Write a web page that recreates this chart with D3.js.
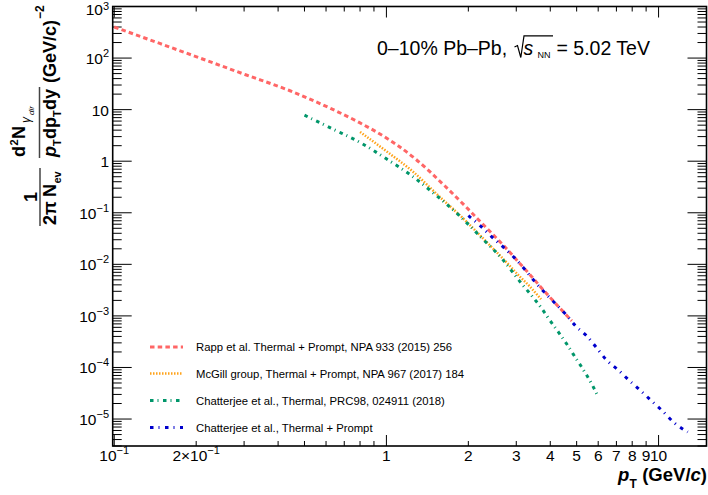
<!DOCTYPE html>
<html><head><meta charset="utf-8">
<script src="https://cdn.jsdelivr.net/npm/d3@7"></script>
<style>
html,body{margin:0;padding:0;background:#fff;}
svg{display:block;font-family:"Liberation Sans",Arial,Helvetica,sans-serif;}
</style></head>
<body>
<svg id="c" width="708" height="495"></svg>
<script>
// ---------- data ----------
const rappPt = [0.1, 0.147, 0.211, 0.304, 0.44, 0.626, 0.794, 1.0, 1.1, 1.28, 1.64, 1.975, 2.17, 2.83, 3.08, 3.37, 3.66, 4.0, 4.38, 4.8];
const rappY  = [400, 192, 96, 47.5, 23.5, 10.45, 5.65, 2.82, 2.02, 1.1, 0.33, 0.125, 0.075, 0.0175, 0.0106, 0.0063, 0.0038, 0.00226, 0.00134, 0.0008];

const mcgillPt = [0.8, 1.0, 1.246, 1.56, 1.96, 2.32, 2.75, 3.07, 3.35, 3.7];
const mcgillY  = [3.7, 1.56, 0.64, 0.21, 0.069, 0.028, 0.0112, 0.006, 0.0038, 0.0021];

const chatThPt = [0.5, 0.633, 0.805, 1.0, 1.246, 1.52, 1.85, 2.22, 2.67, 3.12, 3.41, 3.7, 3.98, 4.28, 4.63, 4.97, 5.33, 5.69, 6.0];
const chatThY  = [7.8, 4.25, 2.27, 1.11, 0.51, 0.22, 0.089, 0.034, 0.0125, 0.0044, 0.0025, 0.00145, 0.00083, 0.00049, 0.00027, 0.00015, 8.5e-5, 4.7e-5, 2.7e-5];

const chatTotPt = [2.0, 2.22, 2.44, 2.69, 2.95, 3.21, 3.49, 3.8, 4.17, 4.56, 4.97, 5.48, 5.94, 6.44, 7.11, 7.8, 8.61, 9.46, 10.4, 11.4, 12.8];
const chatTotY  = [0.088, 0.055, 0.034, 0.0215, 0.0135, 0.0082, 0.0048, 0.0029, 0.00175, 0.00107, 0.00063, 0.000395, 0.000235, 0.000139, 8.9e-5, 5.6e-5, 3.5e-5, 2.2e-5, 1.39e-5, 8.5e-6, 5.6e-6];

const seriesNames = [
  "Rapp et al. Thermal + Prompt, NPA 933 (2015) 256",
  "McGill group, Thermal + Prompt, NPA 967 (2017) 184",
  "Chatterjee et al., Thermal, PRC98, 024911 (2018)",
  "Chatterjee et al., Thermal + Prompt"
];
const seriesColors = ["#ff6666", "#ffa31a", "#00966a", "#0000cc"];
const seriesDash = ["4.5,3.2", "1.5,1.5", "3.5,4,1,4.5", "3.5,5,1,5.5"];
const seriesWidth = [3, 2.5, 3, 3];

const xTickVals = [0.1, 0.2, 1, 2, 3, 4, 5, 6, 7, 8, 9, 10];
const xTickBase = ["10", "2\u00D710", "1", "2", "3", "4", "5", "6", "7", "8", "9", "10"];
const xTickExp  = ["\u22121", "\u22121", "", "", "", "", "", "", "", "", "", ""];

const yTickVals = [1e3, 1e2, 10, 1, 1e-1, 1e-2, 1e-3, 1e-4, 1e-5];
const yTickBase = ["10", "10", "10", "1", "10", "10", "10", "10", "10"];
const yTickExp  = ["3", "2", "", "", "\u22121", "\u22122", "\u22123", "\u22124", "\u22125"];

// ---------- scales ----------
const L = 112.7, R = 706.5, T = 6.5, B = 446;
const x = d3.scaleLog().domain([0.0987, 15]).range([L, R]);
const y = d3.scaleLog().domain([3e-6, 1000]).range([B, T]);

const svg = d3.select("#c");

svg.append("defs").append("clipPath").attr("id", "clip")
  .append("rect").attr("x", L).attr("y", T).attr("width", R - L).attr("height", B - T);

// ---------- ticks ----------
const tk = svg.append("g").attr("stroke", "#000").attr("stroke-width", 1);
for (let e = -6; e <= 3; e++) {
  for (let k = 1; k <= 9; k++) {
    const v = k * Math.pow(10, e);
    if (v < 3e-6 * 0.999 || v > 1000 * 1.001) continue;
    const len = k === 1 ? 19 : 9;
    const yy = y(v);
    tk.append("line").attr("x1", L).attr("x2", L + len).attr("y1", yy).attr("y2", yy);
    tk.append("line").attr("x1", R - len).attr("x2", R).attr("y1", yy).attr("y2", yy);
  }
}
for (let e = -2; e <= 1; e++) {
  for (let k = 1; k <= 9; k++) {
    const v = k * Math.pow(10, e);
    if (v < 0.0987 || v > 15) continue;
    const len = k === 1 ? 11 : 5;
    const xx = x(v);
    tk.append("line").attr("x1", xx).attr("x2", xx).attr("y1", B).attr("y2", B - len);
    tk.append("line").attr("x1", xx).attr("x2", xx).attr("y1", T).attr("y2", T + len);
  }
}

svg.append("rect").attr("x", L).attr("y", T).attr("width", R - L).attr("height", B - T)
  .attr("fill", "none").attr("stroke", "#000").attr("stroke-width", 1.6);

// ---------- tick labels ----------
yTickVals.forEach((v, i) => {
  const top = i === 0;
  const t = svg.append("text").attr("x", 109).attr("y", top ? 14.5 : y(v) + 6)
    .attr("text-anchor", "end").attr("font-size", 15.5).attr("fill", "#000");
  t.append("tspan").text(yTickBase[i]);
  if (yTickExp[i]) t.append("tspan").attr("dy", top ? -5 : -7).attr("font-size", 11).text(yTickExp[i]);
});
xTickVals.forEach((v, i) => {
  const t = svg.append("text").attr("x", x(v)).attr("y", 461)
    .attr("text-anchor", "middle").attr("font-size", 15.5).attr("fill", "#000");
  t.append("tspan").text(xTickBase[i]);
  if (xTickExp[i]) t.append("tspan").attr("dy", -7).attr("font-size", 11).text(xTickExp[i]);
});

// ---------- curves ----------
const line = d3.line().x(d => x(d[0])).y(d => y(d[1])).curve(d3.curveMonotoneX);
const allPt = [rappPt, mcgillPt, chatThPt, chatTotPt];
const allY = [rappY, mcgillY, chatThY, chatTotY];
const curves = svg.append("g").attr("clip-path", "url(#clip)");
allPt.forEach((pts, i) => {
  const data = pts.map((p, j) => [p, allY[i][j]]);
  curves.append("path").attr("d", line(data)).attr("fill", "none")
    .attr("stroke", seriesColors[i]).attr("stroke-width", seriesWidth[i])
    .attr("stroke-dasharray", seriesDash[i]);
});

// ---------- legend ----------
const legY = [347, 373.5, 400.5, 427.5];
seriesNames.forEach((n, i) => {
  svg.append("line").attr("x1", 150).attr("x2", 183).attr("y1", legY[i]).attr("y2", legY[i])
    .attr("stroke", seriesColors[i]).attr("stroke-width", seriesWidth[i])
    .attr("stroke-dasharray", seriesDash[i]);
  svg.append("text").attr("x", 196).attr("y", legY[i] + 4).attr("font-size", 11.3)
    .attr("fill", "#000").text(n);
});

// ---------- title label ----------
svg.append("text").attr("x", 377).attr("y", 55).attr("font-size", 19.5).text("0\u201310% Pb\u2013Pb,");
svg.append("path").attr("d", "M514.5,47 L517.5,45.5 L520.8,57.5 L524,35.8 L553,35.8")
  .attr("fill", "none").attr("stroke", "#000").attr("stroke-width", 1.2);
svg.append("text").attr("x", 523.5).attr("y", 55).attr("font-size", 19.5).attr("font-style", "italic").text("s");
svg.append("text").attr("x", 537.5).attr("y", 57.5).attr("font-size", 9).attr("fill", "#000").text("NN");
svg.append("text").attr("x", 556.5).attr("y", 55).attr("font-size", 19.5).text("= 5.02 TeV");

// ---------- x axis title ----------
svg.append("text").attr("x", 618).attr("y", 481).attr("font-size", 18.5).attr("font-weight", "bold")
  .attr("font-style", "italic").text("p");
svg.append("text").attr("x", 629.5).attr("y", 488).attr("font-size", 12).attr("font-weight", "bold").text("T");
const xt = svg.append("text").attr("x", 707).attr("y", 481).attr("font-size", 18.5)
  .attr("font-weight", "bold").attr("text-anchor", "end");
xt.append("tspan").text("(GeV/");
xt.append("tspan").attr("font-style", "italic").text("c");
xt.append("tspan").text(")");

// ---------- y axis title (rotated) ----------
const yt = svg.append("g").attr("transform", "translate(56,226) rotate(-90)")
  .attr("font-weight", "bold").attr("fill", "#000");
function tx(s, lx, ly, size, italic, anchor) {
  const t = yt.append("text").attr("x", lx).attr("y", ly).attr("font-size", size).text(s);
  if (italic) t.attr("font-style", "italic");
  if (anchor) t.attr("text-anchor", anchor);
  return t;
}
tx("2\u03C0", 1, 0, 18);
tx("N", 29, 0, 18);
tx("ev", 42.5, 5, 11);
tx("1", 29, -19, 18, false, "middle");
yt.append("line").attr("x1", 0).attr("x2", 58).attr("y1", -16).attr("y2", -16)
  .attr("stroke", "#444").attr("stroke-width", 1.5);
tx("d", 69, -31, 18);
tx("2", 80.5, -38, 11);
tx("N", 87, -31, 18);
tx("\u03B3", 103, -26, 12, true).attr("font-weight", "normal");
tx("dir", 111, -22, 8, true).attr("font-weight", "normal");
yt.append("line").attr("x1", 68).attr("x2", 139).attr("y1", -16.5).attr("y2", -16.5)
  .attr("stroke", "#444").attr("stroke-width", 1.5);
tx("p", 69, 0, 18, true);
tx("T", 80, 5, 11);
tx("dp", 87, 0, 18);
tx("T", 109, 5, 11);
tx("dy", 116, 0, 18);
tx("(GeV/c)", 143, 0, 18);
tx("\u22122", 207, -12, 12);
</script>
</body></html>
